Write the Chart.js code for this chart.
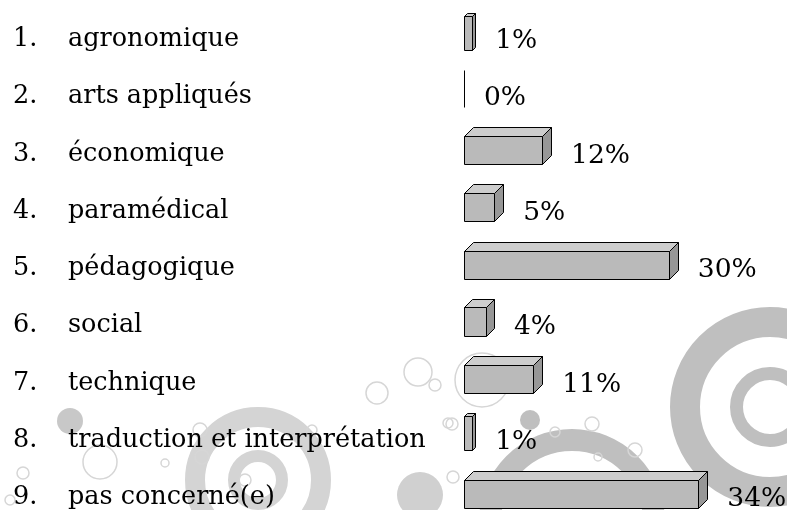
<!DOCTYPE html>
<html>
<head>
<meta charset="utf-8">
<script src="https://cdn.jsdelivr.net/npm/chart.js@4"></script>
<style>
  body { margin: 0; background: #fff; }
  #wrap { width: 787px; height: 510px; position: relative; }
</style>
</head>
<body>
<div id="wrap"><canvas id="myChart"></canvas></div>
<script>
const categories = ['agronomique', 'arts appliqués', 'économique', 'paramédical', 'pédagogique',
  'social', 'technique', 'traduction et interprétation', 'pas concerné(e)'];
const shares = [1.2, 0, 11.4, 4.4, 29.9, 3.2, 10.1, 1.2, 34.2];
const shareLabels = ['1%', '0%', '12%', '5%', '30%', '4%', '11%', '1%', '34%'];

const FONT = '25.5px "DejaVu Serif"';
const VALUE_FONT = '26.5px "DejaVu Serif"';

// decorative circles in the background
const decor = {
  id: 'decor',
  beforeDraw(chart) {
    const ctx = chart.ctx;
    ctx.save();
    const ring = (x, y, r, w, c) => {
      ctx.beginPath(); ctx.arc(x, y, r, 0, Math.PI * 2);
      ctx.lineWidth = w; ctx.strokeStyle = c; ctx.stroke();
    };
    const dot = (x, y, r, c) => {
      ctx.beginPath(); ctx.arc(x, y, r, 0, Math.PI * 2);
      ctx.fillStyle = c; ctx.fill();
    };
    ring(770, 407, 85, 30, '#bfbfbf');
    ring(770, 407, 33.5, 13, '#bfbfbf');
    ring(572, 522, 82, 22, '#bfbfbf');
    dot(530, 420, 10, '#bfbfbf');
    ring(258, 480, 63, 20, '#d4d4d4');
    ring(258, 480, 24, 12, '#d4d4d4');
    dot(420, 495, 23, '#d0d0d0');
    dot(70, 421, 13, '#c8c8c8');
    const small = [[482, 380, 27], [377, 393, 11], [418, 372, 14], [435, 385, 6], [100, 462, 17],
      [165, 463, 4], [23, 473, 6], [452, 424, 6], [592, 424, 7], [555, 432, 5], [635, 450, 7],
      [598, 457, 4], [453, 477, 6], [200, 430, 7], [202, 457, 7], [245, 480, 6], [312, 430, 5],
      [10, 500, 5], [448, 423, 5]];
    small.forEach(s => ring(s[0], s[1], s[2], 1.5, '#d6d6d6'));
    ctx.restore();
  }
};

// 3d boxes + texts
const boxes = {
  id: 'boxes',
  afterDatasetsDraw(chart) {
    const ctx = chart.ctx;
    const meta = chart.getDatasetMeta(0);
    ctx.save();
    ctx.strokeStyle = '#000';
    ctx.lineWidth = 1;
    ctx.lineJoin = 'round';
    meta.data.forEach((bar, i) => {
      const p = bar.getProps(['x', 'y', 'base', 'height'], true);
      const x0 = Math.round(p.base) + 0.5;
      const w = p.x - p.base;
      const top = Math.round(p.y - p.height / 2) + 0.5;
      const bottom = Math.round(p.y + p.height / 2) + 0.5;
      if (w < 1) {
        ctx.beginPath(); ctx.moveTo(x0, top); ctx.lineTo(x0, bottom); ctx.stroke();
        return;
      }
      const x1 = Math.round(p.x) + 0.5;
      const d = Math.round(Math.min(9, w * 0.35));
      // front
      ctx.fillStyle = '#bababa';
      ctx.beginPath(); ctx.rect(x0, top + d, x1 - x0, bottom - top - d); ctx.fill(); ctx.stroke();
      // top
      ctx.fillStyle = '#cdcdcd';
      ctx.beginPath();
      ctx.moveTo(x0, top + d); ctx.lineTo(x0 + d, top); ctx.lineTo(x1 + d, top); ctx.lineTo(x1, top + d);
      ctx.closePath(); ctx.fill(); ctx.stroke();
      // side
      ctx.fillStyle = '#979797';
      ctx.beginPath();
      ctx.moveTo(x1, top + d); ctx.lineTo(x1 + d, top); ctx.lineTo(x1 + d, bottom - d); ctx.lineTo(x1, bottom);
      ctx.closePath(); ctx.fill(); ctx.stroke();
    });
    ctx.restore();
  },
  afterDraw(chart) {
    const ctx = chart.ctx;
    const meta = chart.getDatasetMeta(0);
    const yScale = chart.scales.y;
    ctx.save();
    ctx.fillStyle = '#000';
    ctx.textBaseline = 'alphabetic';
    ctx.textAlign = 'left';
    ctx.font = FONT;
    categories.forEach((c, i) => {
      const y = yScale.getPixelForValue(i) + 15;
      ctx.fillText((i + 1) + '.', 13, y);
      ctx.fillText(c, 68, y);
    });
    ctx.font = VALUE_FONT;
    meta.data.forEach((bar, i) => {
      const p = bar.getProps(['x', 'y', 'base'], true);
      const w = p.x - p.base;
      const d = w < 1 ? 0 : Math.round(Math.min(9, w * 0.35));
      ctx.fillText(shareLabels[i], p.x + d + 20, p.y + 17);
    });
    ctx.restore();
  }
};

new Chart(document.getElementById('myChart'), {
  type: 'bar',
  data: {
    labels: categories,
    datasets: [{
      data: shares,
      backgroundColor: 'rgba(0,0,0,0)',
      borderWidth: 0,
      barThickness: 37
    }]
  },
  options: {
    indexAxis: 'y',
    responsive: true,
    maintainAspectRatio: false,
    animation: false,
    layout: { padding: { left: 464, right: 49, top: 31, bottom: 21 } },
    plugins: { legend: { display: false }, tooltip: { enabled: false } },
    scales: {
      x: { display: false, min: 0, max: 40 },
      y: { display: false, offset: false }
    }
  },
  plugins: [decor, boxes]
});
</script>
</body>
</html>
